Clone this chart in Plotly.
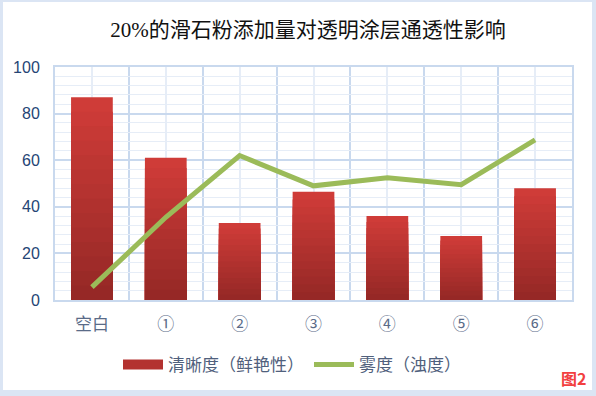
import plotly.graph_objects as go

# ---- data ----
categories = ["空白", "①", "②", "③", "④", "⑤", "⑥"]
clarity = [87, 61, 33, 46.5, 36, 27.5, 48]      # 清晰度（鲜艳性）
haze = [5.5, 35.5, 62, 49, 52.5, 49.5, 68.7]     # 雾度（浊度）
y_ticks = [0, 20, 40, 60, 80, 100]

title_text = "20%的滑石粉添加量对透明涂层通透性影响"
bar_name = "清晰度（鲜艳性）"
line_name = "雾度（浊度）"
fig_label = "图2"

# ---- layout geometry ----
W, H = 596, 396
ML, MR, MT, MB = 55, 24, 67, 96
PW, PH = W - ML - MR, H - MT - MB

xpos = list(range(len(categories)))

top_rgb = (207, 60, 56)
bot_rgb = (150, 40, 38)
N = 14

fig = go.Figure()
for k in range(N):
    f = 1 - k / N
    t = k / (N - 1)
    r = round(top_rgb[0] + (bot_rgb[0] - top_rgb[0]) * t)
    g = round(top_rgb[1] + (bot_rgb[1] - top_rgb[1]) * t)
    b = round(top_rgb[2] + (bot_rgb[2] - top_rgb[2]) * t)
    fig.add_trace(go.Bar(
        x=xpos, y=[v * f for v in clarity], width=0.565,
        marker=dict(color=f"rgb({r},{g},{b})", line=dict(width=0)),
        showlegend=False, hoverinfo="skip" if k else None,
        name=bar_name,
    ))

# legend-only swatch for bars
fig.add_trace(go.Scatter(
    x=[None], y=[None], mode="lines", name=bar_name,
    line=dict(color="#b33230", width=10),
))

fig.add_trace(go.Scatter(
    x=xpos, y=haze, mode="lines", name=line_name,
    line=dict(color="#9bbb59", width=5),
))

grid_major = "#c9d9ee"
grid_minor = "#e6edf7"
tick_font = dict(family="Liberation Sans, Noto Sans CJK SC", size=16, color="#254575")
cat_font = dict(family="Noto Sans CJK SC", size=17, color="#5a6b88")

fig.update_layout(
    width=W, height=H,
    margin=dict(l=ML, r=MR, t=MT, b=MB),
    paper_bgcolor="#dbe5f4",
    plot_bgcolor="white",
    barmode="overlay",
    title=dict(
        text=title_text, x=308 / W, xanchor="center", y=1 - 30 / H, yanchor="middle",
        font=dict(family="Liberation Serif, Noto Sans CJK SC", size=21, color="#111111"),
    ),
    legend=dict(
        orientation="h", x=(292 - ML) / PW, xanchor="center",
        y=(MT + PH - 365) / PH, yanchor="middle",
        font=dict(family="Noto Sans CJK SC", size=17, color="#50607c"),
        bgcolor="rgba(0,0,0,0)", itemwidth=40,
    ),
    showlegend=True,
    xaxis=dict(
        range=[-0.5, len(categories) - 0.5],
        tickvals=xpos, ticktext=categories,
        showgrid=True, gridcolor=grid_minor, gridwidth=1.5,
        ticks="", ticklabelstandoff=8,
        tickfont=cat_font,
        showline=True, linecolor=grid_major, linewidth=2, mirror=True,
        zeroline=False,
        minor=dict(tickvals=[i + 0.5 for i in range(-1, len(categories))],
                   showgrid=True, gridcolor=grid_major, gridwidth=2),
    ),
    yaxis=dict(
        range=[0, 100], tickvals=y_ticks,
        showgrid=True, gridcolor=grid_major, gridwidth=2,
        ticks="", ticklabelstandoff=10,
        tickfont=tick_font,
        showline=True, linecolor=grid_major, linewidth=2, mirror=True,
        zeroline=False,
        minor=dict(dtick=4, showgrid=True, gridcolor=grid_minor, gridwidth=1),
    ),
    shapes=[dict(
        type="rect", xref="paper", yref="paper", layer="below",
        x0=(3 - ML) / PW, x1=(592 - ML) / PW,
        y0=(MT + PH - 390) / PH, y1=(MT + PH - 2) / PH,
        fillcolor="white", line=dict(width=0),
    )],
    annotations=[dict(
        text=f"<b>{fig_label}</b>", xref="paper", yref="paper",
        x=(573 - ML) / PW, y=(MT + PH - 378) / PH,
        xanchor="center", yanchor="middle", showarrow=False,
        font=dict(family="Noto Sans CJK SC", size=16, color="#f2403f"),
    )],
)

fig.write_html(
    "out.html",
    config={"displayModeBar": False},
    post_script="document.body.style.margin='0';document.body.style.padding='0';",
)
